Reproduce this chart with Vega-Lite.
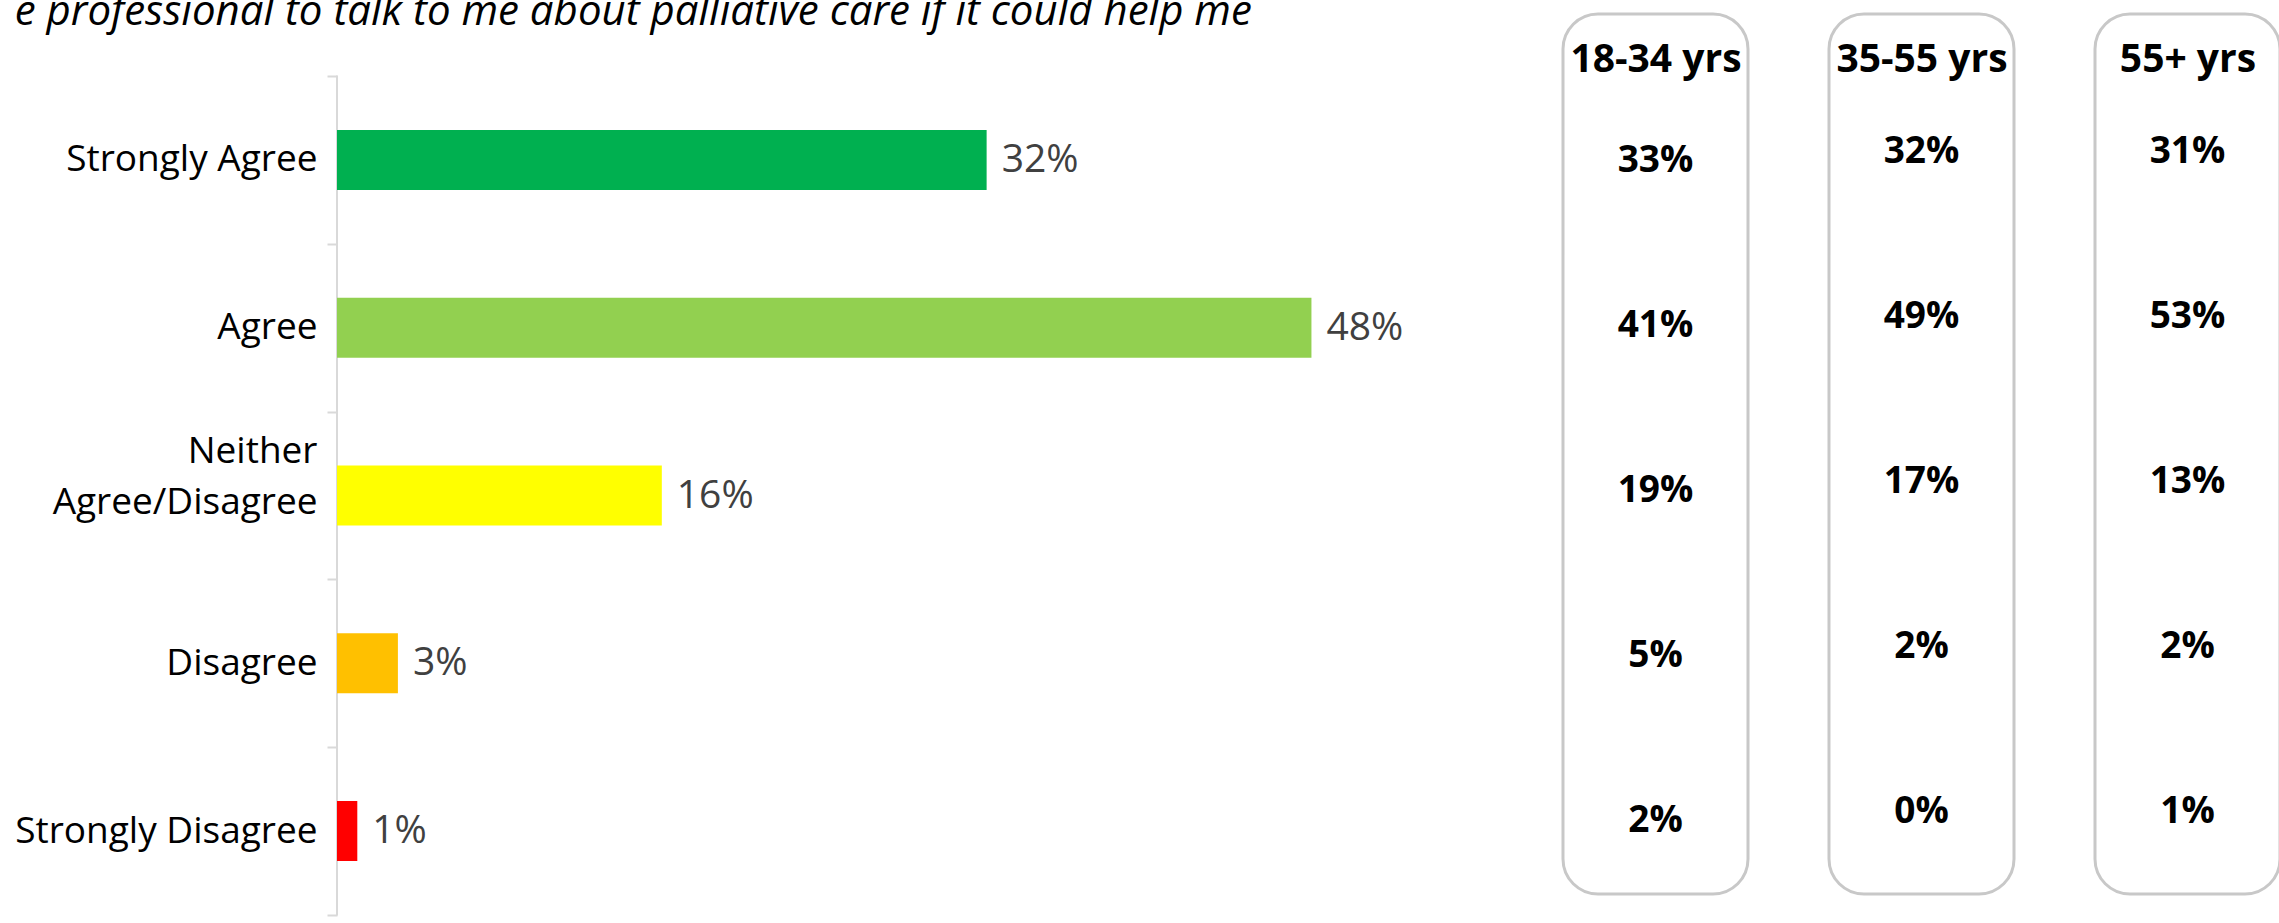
{
  "$schema": "https://vega.github.io/schema/vega-lite/v6.json",
  "padding": {"left": 14, "top": -9, "right": 0, "bottom": 0},
  "background": "white",
  "config": {"font": "Open Sans", "view": {"stroke": null}},
  "spacing": 77,
  "datasets": {
    "main": [
      {"response": "Strongly Agree", "value": 0.32},
      {"response": "Agree", "value": 0.48},
      {"response": "Neither Agree/Disagree", "value": 0.16},
      {"response": "Disagree", "value": 0.03},
      {"response": "Strongly Disagree", "value": 0.01}
    ],
    "ages": [
      {"group": "18-34 yrs", "response": "Strongly Agree", "value": 0.33},
      {"group": "18-34 yrs", "response": "Agree", "value": 0.41},
      {"group": "18-34 yrs", "response": "Neither Agree/Disagree", "value": 0.19},
      {"group": "18-34 yrs", "response": "Disagree", "value": 0.05},
      {"group": "18-34 yrs", "response": "Strongly Disagree", "value": 0.02},
      {"group": "35-55 yrs", "response": "Strongly Agree", "value": 0.32},
      {"group": "35-55 yrs", "response": "Agree", "value": 0.49},
      {"group": "35-55 yrs", "response": "Neither Agree/Disagree", "value": 0.17},
      {"group": "35-55 yrs", "response": "Disagree", "value": 0.02},
      {"group": "35-55 yrs", "response": "Strongly Disagree", "value": 0.0},
      {"group": "55+ yrs", "response": "Strongly Agree", "value": 0.31},
      {"group": "55+ yrs", "response": "Agree", "value": 0.53},
      {"group": "55+ yrs", "response": "Neither Agree/Disagree", "value": 0.13},
      {"group": "55+ yrs", "response": "Disagree", "value": 0.02},
      {"group": "55+ yrs", "response": "Strongly Disagree", "value": 0.01}
    ]
  },
  "hconcat": [
    {
      "width": 1147,
      "height": 907,
      "title": {
        "text": "e professional to talk to me about palliative care if it could help me",
        "anchor": "start",
        "fontSize": 42,
        "fontStyle": "italic",
        "fontWeight": "normal",
        "font": "Open Sans",
        "color": "black",
        "offset": -39
      },
      "data": {"name": "main"},
      "encoding": {
        "y": {
          "field": "response",
          "type": "nominal",
          "sort": ["Strongly Agree", "Agree", "Neither Agree/Disagree", "Disagree", "Strongly Disagree"],
          "scale": {"paddingInner": 0, "paddingOuter": 0.2026, "align": 0.912},
          "axis": {
            "title": null,
            "domain": false,
            "tickBand": "extent",
            "tickColor": "#d9d9d9",
            "tickWidth": 2,
            "tickSize": 10,
            "labelPadding": 10,
            "labelFontSize": 37,
            "labelColor": "black",
            "labelAlign": "right",
            "labelLimit": 500,
            "labelLineHeight": 51,
            "labelOffset": {"condition": {"test": "datum.value == 'Neither Agree/Disagree'", "value": -44}, "value": 0},
            "labelExpr": "datum.value == 'Neither Agree/Disagree' ? ['Neither', 'Agree/Disagree'] : datum.label"
          }
        }
      },
      "layer": [
        {
          "mark": {"type": "tick", "orient": "vertical", "size": 169, "thickness": 2, "color": "#d9d9d9", "opacity": 1},
          "encoding": {
            "x": {"datum": 0, "type": "quantitative", "scale": {"domain": [0, 0.565], "nice": false}, "axis": null}
          }
        },
        {
          "mark": {"type": "bar", "height": {"band": 0.3575}},
          "encoding": {
            "x": {"field": "value", "type": "quantitative", "scale": {"domain": [0, 0.565], "nice": false}, "axis": null},
            "color": {
              "field": "response",
              "type": "nominal",
              "scale": {
                "domain": ["Strongly Agree", "Agree", "Neither Agree/Disagree", "Disagree", "Strongly Disagree"],
                "range": ["#00B050", "#92D050", "#FFFF00", "#FFC000", "#FF0000"]
              },
              "legend": null
            }
          }
        },
        {
          "mark": {"type": "text", "align": "left", "dx": 15, "fontSize": 39, "color": "#404040"},
          "encoding": {
            "x": {"field": "value", "type": "quantitative"},
            "text": {"field": "value", "type": "quantitative", "format": ".0%"}
          }
        }
      ]
    },
    {
      "width": 185,
      "height": 880,
      "view": {"stroke": "#c8c8c8", "strokeWidth": 3, "cornerRadius": 35},
      "data": {"name": "ages"},
      "transform": [{"filter": "datum.group == '18-34 yrs'"}],
      "mark": {"type": "text", "fontSize": 37, "fontWeight": "bold", "color": "black", "dy": 9},
      "encoding": {
        "x": {"field": "group", "type": "nominal", "axis": {"orient": "top", "title": null, "domain": false, "ticks": false, "labelPadding": -57, "labelBaseline": "alphabetic", "labelFontSize": 39, "labelFontWeight": "bold", "labelColor": "black", "labelAngle": 0}},
        "y": {"field": "response", "type": "nominal", "sort": ["Strongly Agree", "Agree", "Neither Agree/Disagree", "Disagree", "Strongly Disagree"], "scale": {"type": "point", "padding": 0.667, "align": 0.627}, "axis": null},
        "text": {"field": "value", "type": "quantitative", "format": ".0%"}
      }
    },
    {
      "width": 185,
      "height": 880,
      "view": {"stroke": "#c8c8c8", "strokeWidth": 3, "cornerRadius": 35},
      "data": {"name": "ages"},
      "transform": [{"filter": "datum.group == '35-55 yrs'"}],
      "mark": {"type": "text", "fontSize": 37, "fontWeight": "bold", "color": "black", "dy": 0},
      "encoding": {
        "x": {"field": "group", "type": "nominal", "axis": {"orient": "top", "title": null, "domain": false, "ticks": false, "labelPadding": -57, "labelBaseline": "alphabetic", "labelFontSize": 39, "labelFontWeight": "bold", "labelColor": "black", "labelAngle": 0}},
        "y": {"field": "response", "type": "nominal", "sort": ["Strongly Agree", "Agree", "Neither Agree/Disagree", "Disagree", "Strongly Disagree"], "scale": {"type": "point", "padding": 0.667, "align": 0.627}, "axis": null},
        "text": {"field": "value", "type": "quantitative", "format": ".0%"}
      }
    },
    {
      "width": 185,
      "height": 880,
      "view": {"stroke": "#c8c8c8", "strokeWidth": 3, "cornerRadius": 35},
      "data": {"name": "ages"},
      "transform": [{"filter": "datum.group == '55+ yrs'"}],
      "mark": {"type": "text", "fontSize": 37, "fontWeight": "bold", "color": "black", "dy": 0},
      "encoding": {
        "x": {"field": "group", "type": "nominal", "axis": {"orient": "top", "title": null, "domain": false, "ticks": false, "labelPadding": -57, "labelBaseline": "alphabetic", "labelFontSize": 39, "labelFontWeight": "bold", "labelColor": "black", "labelAngle": 0}},
        "y": {"field": "response", "type": "nominal", "sort": ["Strongly Agree", "Agree", "Neither Agree/Disagree", "Disagree", "Strongly Disagree"], "scale": {"type": "point", "padding": 0.667, "align": 0.627}, "axis": null},
        "text": {"field": "value", "type": "quantitative", "format": ".0%"}
      }
    }
  ]
}
